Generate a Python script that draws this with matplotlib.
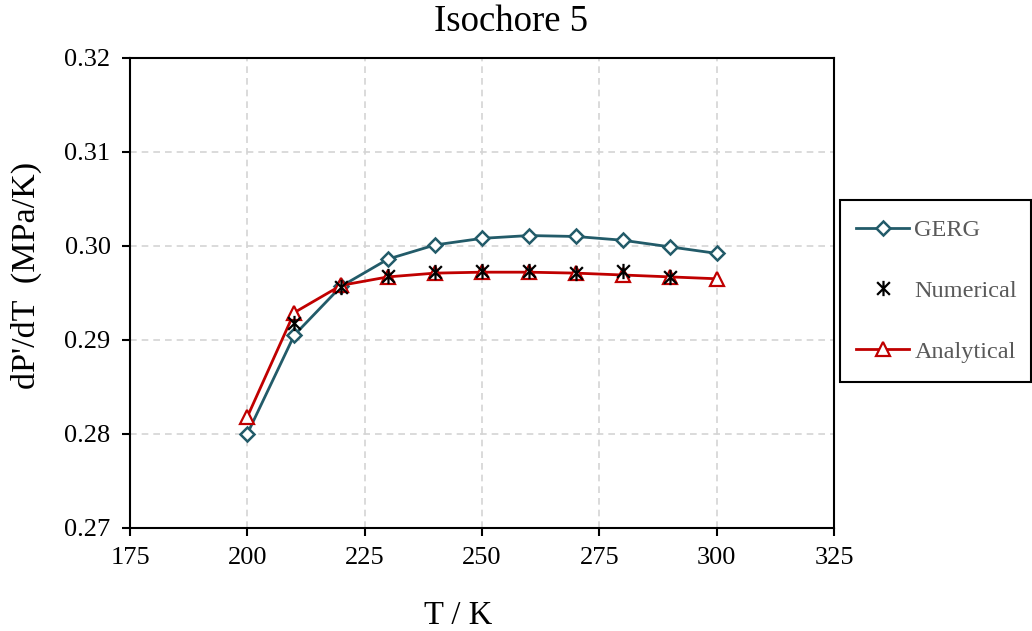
import numpy as np
import matplotlib
matplotlib.use("Agg")
import matplotlib.pyplot as plt
from matplotlib.path import Path
from matplotlib.patches import Rectangle
from matplotlib.ticker import FormatStrFormatter

plt.rcParams['font.family'] = ['Liberation Serif', 'DejaVu Serif']

# Temperatures (K) and dP'/dT values (MPa/K) along isochore 5
T = [200, 210, 220, 230, 240, 250, 260, 270, 280, 290, 300]
gerg = [0.2800, 0.2905, 0.2957, 0.2986, 0.3001, 0.3008, 0.3011, 0.3010, 0.3006, 0.2999, 0.2992]
analytical = [0.2818, 0.2929, 0.2958, 0.2967, 0.2971, 0.2972, 0.2972, 0.2971, 0.2969, 0.2967, 0.2965]
T_num = [210, 220, 230, 240, 250, 260, 270, 280, 290]
numerical = [0.2918, 0.2956, 0.2968, 0.2972, 0.2973, 0.2973, 0.2971, 0.2973, 0.2967]

x_ticks = [175, 200, 225, 250, 275, 300, 325]
y_ticks = [0.27, 0.28, 0.29, 0.30, 0.31, 0.32]

# asterisk: an X with a vertical bar
star = Path([(-1, -1), (1, 1), (-1, 1), (1, -1), (0, -1.2), (0, 1.2)],
            [Path.MOVETO, Path.LINETO, Path.MOVETO, Path.LINETO, Path.MOVETO, Path.LINETO])

W, H = 1032, 631
fig = plt.figure(figsize=(W / 100, H / 100), dpi=100)
ax = fig.add_axes([130 / W, 1 - 527.7 / H, (834 - 130) / W, (527.7 - 58) / H])

ax.plot(T, gerg, color='#225B69', lw=2, marker='D', ms=7, mfc='white', mew=1.8,
        label='GERG', zorder=3)
ax.plot(T_num, numerical, ls='none', marker=star, ms=11, mec='black', mew=1.6,
        label='Numerical', zorder=5)
ax.plot(T, analytical, color='#C00000', lw=2, marker='^', ms=10, mfc='white', mew=1.6,
        label='Analytical', zorder=4)

ax.set_xlim(175, 325)
ax.set_ylim(0.27, 0.32)
ax.set_xticks(x_ticks)
ax.set_yticks(y_ticks)
ax.yaxis.set_major_formatter(FormatStrFormatter('%.2f'))
ax.tick_params(direction='out', length=6, width=1.5, labelsize=19, pad=8)
ax.tick_params(top=False, right=False)
for s in ax.spines.values():
    s.set_linewidth(1.5)
ax.grid(True, color='#D4D4D4', ls=(0, (4, 3)), lw=1.2)
ax.set_axisbelow(True)

ax.set_xlabel('T / K', fontsize=23.5)
ax.xaxis.set_label_coords(0.466, -0.155)
ax.set_ylabel("dP'/dT  (MPa/K)", fontsize=24.5)
ax.yaxis.set_label_coords(-0.125, 0.538)

fig.text(511 / W, 1 - 22 / H, 'Isochore 5', fontsize=26.5, ha='center', va='center')

# legend box drawn separately so the padding can be set exactly
fig.patches.append(Rectangle((840 / W, 1 - 382 / H), (1031 - 840) / W, (382 - 200) / H,
                             transform=fig.transFigure, fill=False,
                             edgecolor='black', lw=1.5))
leg = fig.legend(loc='upper left', bbox_to_anchor=(856 / W, 1 - 219 / H),
                 fontsize=17.5, frameon=False,
                 handlelength=2.2, handletextpad=0.2, labelspacing=1.6,
                 borderpad=0, borderaxespad=0)
for txt in leg.get_texts():
    txt.set_color('#595959')

fig.savefig('out.png', dpi=100)
